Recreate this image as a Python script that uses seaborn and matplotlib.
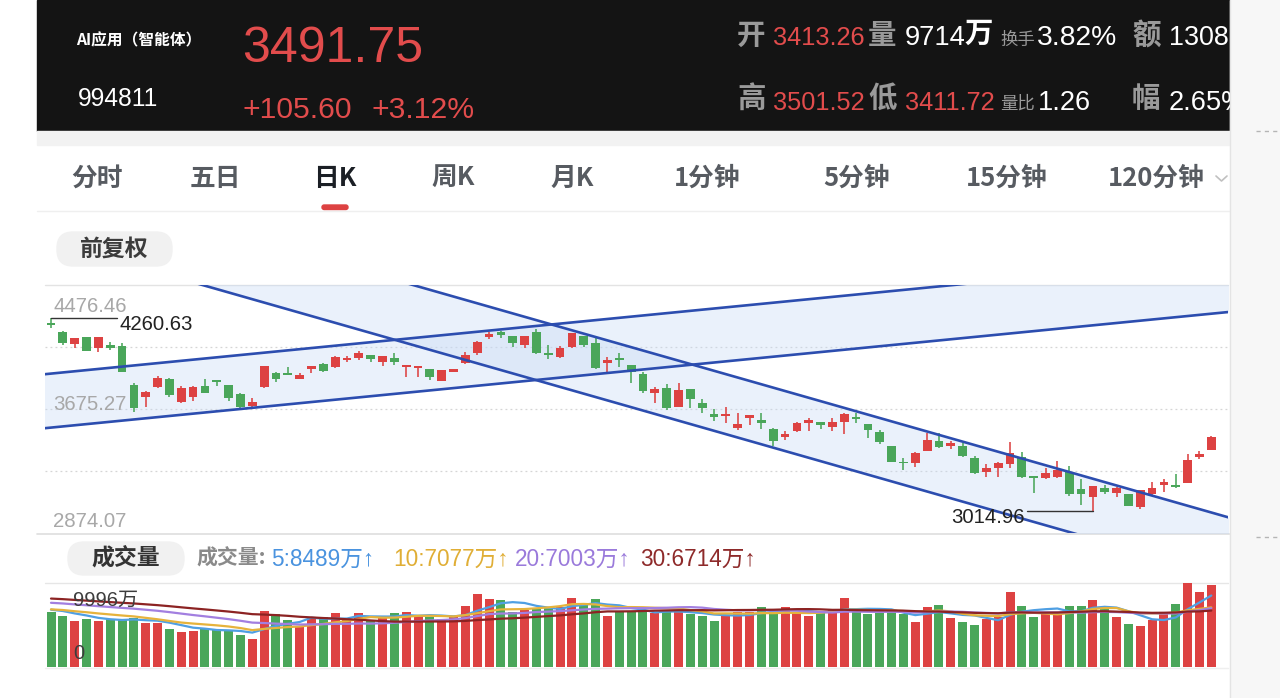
import numpy as np
import pandas as pd
import matplotlib
matplotlib.use("Agg")
import matplotlib.pyplot as plt
from matplotlib.patches import Rectangle, FancyBboxPatch
import seaborn as sns

# ---------------- data ----------------
opens = [4232.9, 4174.7, 4095.3, 4138.6, 4067.5, 4088.8, 4082.3, 3830.4, 3754.8, 3815.5,
         3867.2, 3722.5, 3754.8, 3823.9, 3862.7, 3828.4, 3770.3, 3694.7, 3815.5, 3909.8,
         3906.0, 3869.1, 3931.8, 3966.0, 3944.7, 3991.9, 4002.9, 4024.2, 3980.9, 4006.8,
         3944.7, 3942.1, 3931.8, 3856.2, 3916.3, 3970.6, 4039.0, 4142.4, 4174.7, 4146.9,
         4088.8, 4174.7, 4035.2, 4013.2, 4073.9, 4146.9, 4099.8, 3974.4, 4002.9, 3959.6,
         3901.4, 3780.6, 3812.9, 3690.2, 3804.5, 3712.1, 3641.0, 3630.1, 3550.6, 3615.2,
         3604.2, 3544.1, 3496.3, 3535.1, 3582.9, 3589.4, 3560.9, 3591.3, 3625.5, 3578.4,
         3528.6, 3436.2, 3334.8, 3328.3, 3403.9, 3468.5, 3436.2, 3438.2, 3356.8, 3270.2,
         3292.2, 3318.0, 3367.1, 3242.4, 3227.6, 3237.9, 3270.2, 3156.5, 3108.6, 3166.8,
         3134.5, 3124.2, 3044.0, 3126.1, 3184.3, 3184.3, 3199.1, 3363.2, 3413.26]
highs = [4260.63, 4179.3, 4135.0, 4141.0, 4141.0, 4110.1, 4099.8, 3841.3, 3789.0, 3888.5,
         3877.5, 3823.9, 3822.0, 3867.2, 3864.0, 3830.0, 3780.6, 3744.4, 3955.0, 3912.0,
         3944.7, 3909.8, 3955.0, 3974.4, 4015.0, 4017.7, 4052.0, 4026.0, 4019.0, 4035.2,
         3961.0, 3955.0, 3934.0, 3929.0, 3934.0, 4045.5, 4112.0, 4174.7, 4177.0, 4149.0,
         4149.0, 4190.2, 4088.8, 4082.3, 4167.0, 4149.0, 4132.1, 4013.2, 4039.0, 3962.0,
         3916.3, 3819.4, 3836.8, 3841.3, 3807.0, 3737.9, 3673.4, 3690.2, 3651.4, 3639.0,
         3651.4, 3550.6, 3535.1, 3593.2, 3615.2, 3592.0, 3615.2, 3647.5, 3647.5, 3581.0,
         3539.6, 3438.0, 3356.8, 3399.4, 3518.3, 3518.3, 3470.5, 3453.7, 3371.6, 3319.9,
         3334.8, 3464.0, 3399.4, 3244.0, 3292.2, 3339.3, 3307.0, 3221.1, 3180.0, 3184.3,
         3169.4, 3127.0, 3154.0, 3205.6, 3221.1, 3255.3, 3384.6, 3405.9, 3501.52]
lows = [4196.7, 4092.0, 4071.4, 4047.0, 4045.5, 4056.5, 3914.0, 3657.9, 3690.2, 3809.0,
        3754.8, 3716.0, 3728.9, 3776.7, 3823.9, 3728.9, 3679.8, 3690.2, 3813.0, 3851.7,
        3893.0, 3867.2, 3909.8, 3916.3, 3943.0, 3980.9, 3991.9, 3977.0, 3953.1, 3959.6,
        3880.1, 3880.1, 3862.7, 3854.0, 3914.0, 3968.0, 4024.2, 4125.6, 4132.1, 4077.8,
        4067.5, 4030.6, 3996.4, 4006.8, 4071.0, 4073.9, 3931.8, 3909.8, 3948.6, 3841.3,
        3776.7, 3712.1, 3668.8, 3688.0, 3683.7, 3651.4, 3597.8, 3582.9, 3539.6, 3571.9,
        3544.1, 3436.2, 3475.0, 3528.6, 3535.1, 3546.1, 3535.1, 3511.8, 3582.9, 3486.0,
        3449.2, 3333.0, 3281.2, 3302.5, 3401.0, 3421.4, 3414.9, 3363.2, 3255.3, 3237.9,
        3237.9, 3292.2, 3227.6, 3134.5, 3221.1, 3227.6, 3113.2, 3055.0, 3014.96, 3124.2,
        3108.6, 3048.0, 3031.1, 3119.6, 3141.0, 3163.0, 3197.0, 3350.3, 3411.72]
closes = [4218.0, 4099.8, 4132.1, 4050.0, 4138.6, 4071.4, 3916.3, 3679.8, 3787.1, 3873.6,
          3765.7, 3812.9, 3819.4, 3780.6, 3851.7, 3744.4, 3690.2, 3722.5, 3953.1, 3867.2,
          3895.0, 3895.0, 3953.1, 3922.8, 4013.2, 4006.8, 4039.0, 3998.3, 4017.7, 3980.9,
          3959.6, 3953.1, 3880.1, 3927.3, 3931.8, 4024.2, 4110.1, 4157.9, 4153.4, 4099.8,
          4146.9, 4035.2, 4024.2, 4067.5, 4164.4, 4088.8, 3938.3, 3991.9, 3991.9, 3916.3,
          3793.5, 3804.5, 3679.8, 3798.0, 3737.9, 3683.7, 3625.5, 3641.0, 3576.4, 3636.5,
          3582.9, 3470.5, 3513.8, 3582.9, 3604.2, 3571.9, 3593.2, 3643.0, 3608.7, 3539.6,
          3464.0, 3334.8, 3324.5, 3389.1, 3475.0, 3431.7, 3453.7, 3371.6, 3263.7, 3292.2,
          3328.3, 3389.1, 3237.9, 3231.4, 3263.7, 3281.2, 3126.1, 3124.2, 3177.8, 3141.0,
          3163.0, 3050.5, 3152.0, 3166.8, 3205.6, 3169.4, 3345.8, 3384.6, 3491.75]
volumes = [6510, 6105, 5474, 5676, 5474, 5676, 5676, 5795, 5200, 5200,
           4522, 4201, 4284, 4605, 4403, 4320, 3808, 3332, 6664, 6307,
           5593, 4879, 5914, 5986, 6390, 5676, 6462, 5593, 5914, 6390,
           6545, 6069, 5914, 5676, 5914, 7295, 8687, 8056, 7973, 6581,
           6783, 6985, 6985, 7176, 8247, 7580, 8056, 6105, 6700, 6700,
           6581, 6390, 6581, 6783, 6271, 6069, 5510, 6188, 6581, 6581,
           7176, 6307, 7104, 6581, 6069, 6462, 6866, 8247, 6783, 6271,
           6390, 6581, 6307, 5319, 7104, 7378, 5795, 5391, 4998, 5676,
           5986, 8961, 7259, 5914, 6271, 6390, 7295, 7295, 7973, 6866,
           5914, 5117, 4915, 5593, 6390, 7461, 9996, 8961, 9714]  # 万

price_labels = [4476.46, 3675.27, 2874.07]
vol_axis_max = 9996
# level of each volume MA at the left edge (history before the visible window)
ma_windows = [5, 10, 20, 30]
ma_start_level = [6900, 6900, 7700, 8200]
ma_texts = ["5:8489万↑", "10:7077万↑", "20:7003万↑", "30:6714万↑"]

# trend channels: (bar index, price) anchor pairs
asc_lower = [(0, 3555.1), (98, 4291.0)]
asc_upper = [(0, 3904.0), (98, 4640.0)]
desc_upper = [(0, 5143.0), (98, 3006.6)]
desc_lower = [(0, 4755.3), (98, 2618.9)]

tabs = ["分时", "五日", "日K", "周K", "月K", "1分钟", "5分钟", "15分钟", "120分钟"]

# ---------------- style ----------------
sns.set_style("white")
CJK = ['Noto Sans CJK SC', 'DejaVu Sans']
NUM = ['Liberation Sans', 'Noto Sans CJK SC', 'DejaVu Sans']
plt.rcParams['font.family'] = NUM
plt.rcParams['axes.unicode_minus'] = False

RED = '#dd4242'
GREEN = '#4aa65a'
HRED = '#e24c4c'
GRAYH = '#9a9a9a'
LINE = '#2c4daf'
MA_COLORS = ['#4f9fe3', '#e6b33c', '#a27fe0', '#8c2323']
TXT_COLORS = ['#4a93df', '#e0ae35', '#9a7adb', '#8e2a2a']

W, H = 1280, 698
fig = plt.figure(figsize=(12.8, 6.98), dpi=100)
fig.patch.set_facecolor('white')

bg = fig.add_axes([0, 0, 1, 1], zorder=0)
bg.set_xlim(0, W)
bg.set_ylim(H, 0)
bg.axis('off')


def T(x, y, s, size, color, fam=NUM, ha='left', va='baseline', weight='normal', z=5):
    bg.text(x, y, s, fontsize=size, color=color, family=fam, ha=ha, va=va,
            fontweight=weight, zorder=z)


# header band
bg.add_patch(Rectangle((37, 0), 1193, 131, color='#141414', zorder=1))
bg.add_patch(Rectangle((37, 131), 1193, 14, color='#f2f2f2', zorder=1))
T(76, 40.5, "AI应用（智能体）", 11.3, 'white', CJK, va='center', weight='bold')
T(78, 106, "994811", 17.7, 'white')
T(242.5, 62, "3491.75", 36, HRED)
T(242.5, 118, "+105.60", 21.7, HRED)
T(371.5, 118, "+3.12%", 21.7, HRED)

for lab, x in [("开", 737), ("量", 868), ("额", 1132)]:
    T(x, 36, lab, 20.5, GRAYH, CJK, va='center', weight='bold')
for lab, x in [("高", 737), ("低", 868), ("幅", 1132)]:
    T(x, 98.5, lab, 20.5, GRAYH, CJK, va='center', weight='bold')
T(773, 45, "3413.26", 18.3, HRED)
T(905, 45, "9714", 19.7, 'white')
T(965, 34, "万", 20.5, 'white', CJK, va='center', weight='bold')
T(1000, 40, "换手", 12.5, GRAYH, CJK, va='center')
T(1037, 45, "3.82%", 20.3, 'white')
T(1169, 45, "1308", 19.4, 'white')
T(773, 110, "3501.52", 18.3, HRED)
T(905, 110, "3411.72", 18.3, HRED)
T(1000, 104, "量比", 12.5, GRAYH, CJK, va='center')
T(1038, 110, "1.26", 19.6, 'white')
T(1169, 110, "2.65%", 19.6, 'white')

# right strip (covers overflow of header text)
bg.add_patch(Rectangle((1230, 0), 50, H, color='#f7f7f7', zorder=10))
bg.plot([1230, 1230], [0, H], color='#e4e4e4', lw=1, zorder=11)
for yy in (131, 537):
    bg.plot([1256, 1280], [yy, yy], color='#b5b5b5', lw=1, ls=(0, (3, 3)), zorder=11)

# tabs
tab_x = [97, 215, 335, 453, 572, 707, 857, 1007, 1156]
for lab, x in zip(tabs, tab_x):
    active = lab == "日K"
    T(x, 178.5, lab, 18.5, '#1b1f25' if active else '#575b61', CJK, ha='center', va='center',
      weight='heavy' if active else 'bold')
bg.add_patch(FancyBboxPatch((322, 205), 26, 4.5, boxstyle="round,pad=0,rounding_size=2.2",
                            color=RED, zorder=3))
bg.plot([1216, 1221.5, 1227], [176, 181, 176], color='#c0c0c0', lw=1.2, zorder=3)
bg.plot([37, 1230], [211, 211], color='#efefef', lw=1, zorder=2)

# 前复权 button
bg.add_patch(FancyBboxPatch((57, 232), 115, 34, boxstyle="round,pad=0,rounding_size=16",
                            color='#f1f1f1', zorder=2))
T(114.5, 249, "前复权", 16.5, '#3c3c3c', CJK, ha='center', va='center', weight='bold')

# volume title row
bg.add_patch(FancyBboxPatch((68, 542), 116, 33, boxstyle="round,pad=0,rounding_size=16",
                            color='#f1f1f1', zorder=2))
T(126, 558.5, "成交量", 16.5, '#333333', CJK, ha='center', va='center', weight='bold')
T(196, 558.5, "成交量:", 15, '#8a8a8a', CJK, va='center', weight='bold')
for s, x, c in zip(ma_texts, [271, 393, 515, 640], TXT_COLORS):
    T(x, 566, s, 16.3, c)

# frame lines
bg.plot([45, 1228], [285, 285], color='#e3e3e3', lw=1, zorder=2)
bg.plot([37, 1230], [534, 534], color='#dedede', lw=1.2, zorder=2)
bg.plot([45, 1228], [583, 583], color='#e6e6e6', lw=1, zorder=2)
bg.plot([45, 1228], [667.5, 667.5], color='#efefef', lw=1, zorder=2)

# ---------------- price chart ----------------
n = len(closes)
idx = np.arange(n)
o = np.array(opens); c = np.array(closes); hi = np.array(highs); lo = np.array(lows)
up = c > o
cols = np.where(up, RED, GREEN)
XL = (-0.507, 99.41)

ax = fig.add_axes([45 / W, 1 - 533 / H, 1183 / W, 248 / H], zorder=2)
ax.set_facecolor('none')
ax.set_xlim(*XL)
ymin, ymax = min(price_labels), max(price_labels)
ax.set_ylim(ymin, ymax)
ax.axis('off')
for k in (1, 2, 3):
    ax.axhline(ymin + k * (ymax - ymin) / 4, color='#d5d5d5', lw=0.9, ls=(0, (1.5, 2.5)), zorder=0)


def line_vals(pts, xs):
    (x1, y1), (x2, y2) = pts
    return y1 + (y2 - y1) * (xs - x1) / (x2 - x1)


xs = np.linspace(XL[0] - 1, XL[1] + 1, 400)
band = (0.78, 0.85, 0.96)
for lo_pts, up_pts in [(asc_lower, asc_upper), (desc_lower, desc_upper)]:
    ax.fill_between(xs, line_vals(lo_pts, xs), line_vals(up_pts, xs), color=band,
                    alpha=0.36, lw=0, zorder=1)
for pts in (asc_lower, asc_upper, desc_upper, desc_lower):
    ax.plot(xs, line_vals(pts, xs), color=LINE, lw=1.9, zorder=5, solid_capstyle='butt')

ax.vlines(idx, lo, hi, colors=cols, lw=1.15, zorder=3)
body = np.maximum(np.abs(c - o), 9.0)
mid = (c + o) / 2
ax.bar(idx, body, bottom=mid - body / 2, width=0.74, color=cols, zorder=4, linewidth=0)

# price labels
offs = {max(price_labels): -27, sorted(price_labels)[1]: -1, min(price_labels): 6}
for v in price_labels:
    ax.annotate(f"{v:.2f}", xy=(0, v), xycoords=('axes fraction', 'data'),
                xytext=(8, offs[v]), textcoords='offset pixels', ha='left', va='baseline',
                fontsize=14.7, color='#a8a8a8', annotation_clip=False, zorder=6)

# max / min markers
imax = int(np.argmax(hi)); imin = int(np.argmin(lo))
span = 5.6
ax.plot([imax, imax + span], [hi[imax], hi[imax]], color='#333333', lw=1.0, zorder=6)
ax.annotate(f"{hi[imax]:.2f}", xy=(imax + span, hi[imax]), xytext=(2, -12),
            textcoords='offset pixels', ha='left', va='baseline', fontsize=14.7,
            color='#222222', annotation_clip=False, zorder=7)
ax.plot([imin - span, imin], [lo[imin], lo[imin]], color='#333333', lw=1.0, zorder=6)
ax.annotate(f"{lo[imin]:.2f}", xy=(imin - span, lo[imin]), xytext=(-2, -12),
            textcoords='offset pixels', ha='right', va='baseline', fontsize=14.7,
            color='#222222', annotation_clip=False, zorder=7)

# ---------------- volume chart ----------------
vol = np.array(volumes, dtype=float)
dfv = pd.DataFrame({'idx': idx, 'vol': vol, 'dir': np.where(up, 'up', 'down')})
axv = fig.add_axes([45 / W, 1 - 667 / H, 1183 / W, 84 / H], zorder=3)
axv.set_facecolor('none')
sns.barplot(data=dfv, x='idx', y='vol', hue='dir', palette={'up': RED, 'down': GREEN},
            native_scale=True, dodge=False, width=0.76, errorbar=None, saturation=1,
            legend=False, linewidth=0, ax=axv)


def moving_avg(v, k, prior):
    out = []
    for i in range(len(v)):
        a = max(0, i - k + 1)
        out.append((v[a:i + 1].sum() + max(0, k - 1 - i) * prior) / k)
    return np.array(out)


for k, prior, col in zip(ma_windows, ma_start_level, MA_COLORS):
    sns.lineplot(x=idx, y=moving_avg(vol, k, prior), color=col, lw=1.6, errorbar=None,
                 ax=axv, zorder=5)
axv.set_xlim(*XL)
axv.set_ylim(0, vol_axis_max)
axv.axis('off')
axv.annotate(f"{vol_axis_max}万", xy=(0, 1), xycoords='axes fraction', xytext=(28, -23),
             textcoords='offset pixels', ha='left', va='baseline', fontsize=14.5,
             color='#3d3d3d', annotation_clip=False, zorder=8)
axv.annotate("0", xy=(0, 0), xycoords='axes fraction', xytext=(28, 8),
             textcoords='offset pixels', ha='left', va='baseline', fontsize=14.5,
             color='#3d3d3d', annotation_clip=False, zorder=8)

fig.savefig("out.png", dpi=100, facecolor='white')
